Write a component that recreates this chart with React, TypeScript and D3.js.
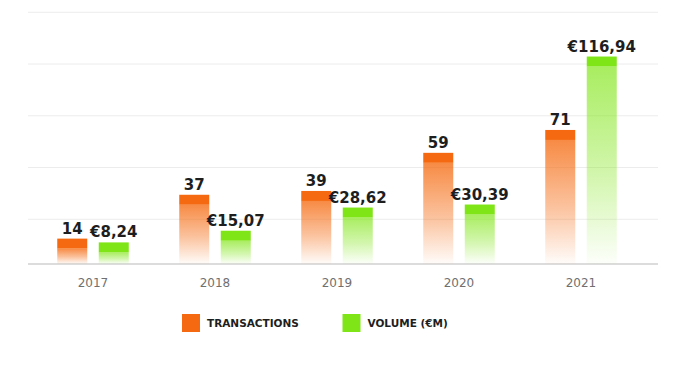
import React from "react";
import * as d3 from "d3";

const years = ["2017", "2018", "2019", "2020", "2021"];
const transactions = [14, 37, 39, 59, 71];
const volume = [8.24, 15.07, 28.62, 30.39, 116.94];
const volumeLabels = ["€8,24", "€15,07", "€28,62", "€30,39", "€116,94"];
const gridTicks = [1, 2, 3, 4, 5];
const legendItems = ["TRANSACTIONS", "VOLUME (€M)"];

const W = 683;
const H = 376;
const ORANGE = "#f56a10";
const GREEN = "#80e516";

export default function App() {
  const x = d3.scaleBand<string>().domain(years).range([32, 642]).paddingInner(0).paddingOuter(0);
  const yT = d3.scaleLinear().domain([0, 80]).range([265.3, 112.8]);
  const yV = d3.scaleLinear().domain([0, 120]).range([256.5, 51.3]);
  const yGrid = d3.scaleLinear().domain([0, 5]).range([271, 12.25]);
  const baseline = 264;
  const barW = 30;
  const gap = 11.5;
  const cap = 10;
  const font = "'DejaVu Sans', sans-serif";

  const bar = (cx: number, top: number, color: string, grad: string, key: string) => (
    <g key={key}>
      <rect x={cx} y={top + cap} width={barW} height={Math.max(0, baseline - top - cap)} fill={`url(#${grad})`} />
      <rect x={cx} y={top} width={barW} height={cap} fill={color} />
    </g>
  );

  return (
    <svg width={W} height={H} style={{ position: "absolute", left: 0, top: 0, background: "#fff" }}>
      <defs>
        <linearGradient id="gO" x1="0" y1="0" x2="0" y2="1">
          <stop offset="0" stopColor={ORANGE} stopOpacity={0.78} />
          <stop offset="0.55" stopColor={ORANGE} stopOpacity={0.4} />
          <stop offset="1" stopColor={ORANGE} stopOpacity={0.02} />
        </linearGradient>
        <linearGradient id="gV" x1="0" y1="0" x2="0" y2="1">
          <stop offset="0" stopColor={GREEN} stopOpacity={0.68} />
          <stop offset="0.55" stopColor={GREEN} stopOpacity={0.35} />
          <stop offset="1" stopColor={GREEN} stopOpacity={0.02} />
        </linearGradient>
      </defs>
      {gridTicks.map((t) => (
        <line key={t} x1={28} x2={658} y1={yGrid(t)} y2={yGrid(t)} stroke="#ececec" strokeWidth={1} />
      ))}
      <line x1={28} x2={658} y1={baseline} y2={baseline} stroke="#dcdcdc" strokeWidth={2} />
      {years.map((yr, i) => {
        const c = (x(yr) as number) + x.bandwidth() / 2;
        const xo = c - gap / 2 - barW;
        const xg = c + gap / 2;
        const tTop = yT(transactions[i]);
        const vTop = yV(volume[i]);
        return (
          <g key={yr}>
            {bar(xo, tTop, ORANGE, "gO", "o")}
            {bar(xg, vTop, GREEN, "gV", "v")}
            <text x={xo + barW / 2} y={tTop - 5} textAnchor="middle" fontFamily={font} fontWeight="bold" fontSize={15} fill="#1e1e1e">
              {transactions[i]}
            </text>
            <text x={xg + barW / 2} y={vTop - 5} textAnchor="middle" fontFamily={font} fontWeight="bold" fontSize={15} fill="#1e1e1e">
              {volumeLabels[i]}
            </text>
            <text x={c} y={287} textAnchor="middle" fontFamily={font} fontSize={12} fill="#707070">
              {yr}
            </text>
          </g>
        );
      })}
      {legendItems.map((l, i) => {
        const lx = i === 0 ? 182 : 342.5;
        return (
          <g key={l}>
            <rect x={lx} y={314} width={18} height={18} fill={i === 0 ? ORANGE : GREEN} />
            <text x={lx + 25} y={327} fontFamily={font} fontWeight="bold" fontSize={10.5} fill="#1e1e1e">
              {l}
            </text>
          </g>
        );
      })}
    </svg>
  );
}
